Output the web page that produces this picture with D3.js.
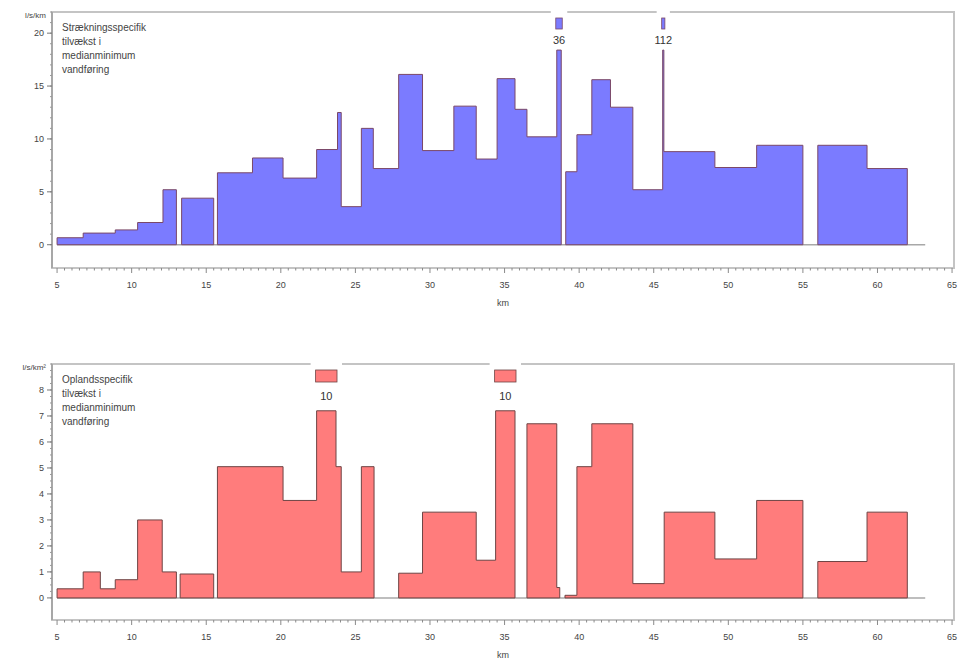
<!DOCTYPE html>
<html>
<head>
<meta charset="utf-8">
<script src="https://cdn.jsdelivr.net/npm/d3@7"></script>
<style>
  body { margin: 0; background: #fff; }
  svg { display: block; font-family: "Liberation Sans", Arial, sans-serif; }
</style>
</head>
<body>
<div id="chart"></div>
<script>
// strækningsspecifik tilvækst (l/s/km): segment start, end and value
const topFrom = [5.0, 6.75, 8.9, 10.4, 12.1, 13.35, 15.75, 18.1, 20.15, 22.4, 23.8, 24.05, 25.4, 26.2, 27.9,
    29.5, 31.6, 33.1, 34.5, 35.7, 36.5, 38.5, 39.1, 39.85, 40.85, 42.1, 43.6, 45.6, 45.68, 49.1, 51.9, 56.0, 59.3];
const topTo = [6.75, 8.9, 10.4, 12.1, 13.0, 15.5, 18.1, 20.15, 22.4, 23.8, 24.05, 25.4, 26.2, 27.9, 29.5,
    31.6, 33.1, 34.5, 35.7, 36.5, 38.5, 38.8, 39.85, 40.85, 42.1, 43.6, 45.6, 45.68, 49.1, 51.9, 55.0, 59.3, 62.0];
const topVal = [0.66, 1.1, 1.4, 2.1, 5.2, 4.4, 6.8, 8.2, 6.3, 9.0, 12.5, 3.6, 11.0, 7.2, 16.1,
    8.9, 13.1, 8.1, 15.7, 12.8, 10.2, 36, 6.9, 10.4, 15.6, 13.0, 5.2, 112, 8.8, 7.3, 9.4, 9.4, 7.2];

// oplandsspecifik tilvækst (l/s/km²)
const botFrom = [5.0, 6.75, 7.9, 8.9, 10.4, 12.05, 13.25, 15.75, 20.15, 22.4, 23.7, 24.05, 25.4, 27.9,
    29.5, 33.1, 34.4, 36.5, 38.5, 39.05, 39.85, 40.85, 43.6, 45.7, 49.1, 51.9, 56.0, 59.3];
const botTo = [6.75, 7.9, 8.9, 10.4, 12.05, 13.0, 15.5, 20.15, 22.4, 23.7, 24.05, 25.4, 26.25, 29.5,
    33.1, 34.4, 35.7, 38.5, 38.7, 39.85, 40.85, 43.6, 45.7, 49.1, 51.9, 55.0, 59.3, 62.0];
const botVal = [0.35, 1.0, 0.35, 0.7, 3.0, 1.0, 0.92, 5.05, 3.75, 10, 5.05, 1.0, 5.05, 0.95,
    3.3, 1.45, 10, 6.7, 0.4, 0.1, 5.05, 6.7, 0.55, 3.3, 1.5, 3.75, 1.4, 3.3];

const xTicks = [5, 10, 15, 20, 25, 30, 35, 40, 45, 50, 55, 60, 65];
const topYTicks = [0, 5, 10, 15, 20];
const botYTicks = [0, 1, 2, 3, 4, 5, 6, 7, 8];
const topLegend = ["Strækningsspecifik", "tilvækst i", "medianminimum", "vandføring"];
const botLegend = ["Oplandsspecifik", "tilvækst i", "medianminimum", "vandføring"];

const width = 963, height = 661;
const left = 52, right = 954;

const svg = d3.select("#chart")
    .append("svg")
    .attr("width", width)
    .attr("height", height);

const x = d3.scaleLinear().domain([4.66, 65.13]).range([left, right]);

// split segments into runs of touching steps
function runsOf(data) {
    const runs = [];
    data.forEach((d, i) => {
        if (i > 0 && Math.abs(d.from - data[i - 1].to) < 1e-6) runs[runs.length - 1].push(d);
        else runs.push([d]);
    });
    return runs;
}

function drawPanel(o) {
    const y = d3.scaleLinear().domain(o.yDomain).range([o.bottom, o.top]);
    const g = svg.append("g");
    const data = o.from.map((f, i) => ({from: f, to: o.to[i], value: o.val[i]}));
    const h = v => y(Math.min(v, o.clip));

    // frame
    g.append("rect")
        .attr("x", left).attr("y", o.top)
        .attr("width", right - left).attr("height", o.bottom - o.top)
        .attr("fill", "none")
        .attr("stroke", "#c4c4c4")
        .attr("stroke-width", 2);
    g.append("line")
        .attr("x1", left).attr("x2", left)
        .attr("y1", o.top).attr("y2", o.bottom)
        .attr("stroke", "#8a8a8a");

    // x ticks (minor every 0.5 km)
    const minorX = d3.range(5, 65.01, 0.5);
    g.selectAll(".xminor")
        .data(minorX)
        .enter()
        .append("line")
        .attr("x1", d => x(d)).attr("x2", d => x(d))
        .attr("y1", o.bottom)
        .attr("y2", d => o.bottom + (d % 5 === 0 ? 5 : 2.5))
        .attr("stroke", "#8a8a8a");
    g.selectAll(".xlab")
        .data(xTicks)
        .enter()
        .append("text")
        .attr("x", d => x(d))
        .attr("y", o.bottom + 20)
        .attr("text-anchor", "middle")
        .attr("font-size", "9px")
        .attr("fill", "#444")
        .text(d => d);
    g.append("text")
        .attr("x", (left + right) / 2)
        .attr("y", o.bottom + 38)
        .attr("text-anchor", "middle")
        .attr("font-size", "9px")
        .attr("fill", "#444")
        .text("km");

    // y ticks
    const minorY = d3.range(0, o.yDomain[1] + 0.001, o.minorStep);
    g.selectAll(".yminor")
        .data(minorY)
        .enter()
        .append("line")
        .attr("x1", left - 2).attr("x2", left)
        .attr("y1", d => y(d)).attr("y2", d => y(d))
        .attr("stroke", "#999");
    g.selectAll(".ymajor")
        .data(o.yTicks)
        .enter()
        .append("line")
        .attr("x1", left - 5).attr("x2", left)
        .attr("y1", d => y(d)).attr("y2", d => y(d))
        .attr("stroke", "#777");
    g.selectAll(".ylab")
        .data(o.yTicks)
        .enter()
        .append("text")
        .attr("x", left - 8)
        .attr("y", d => y(d) + 3)
        .attr("text-anchor", "end")
        .attr("font-size", "9px")
        .attr("fill", "#444")
        .text(d => d);
    g.append("text")
        .attr("x", left - 6)
        .attr("y", o.top + 6)
        .attr("text-anchor", "end")
        .attr("font-size", "8px")
        .attr("fill", "#444")
        .text(o.unit);

    // baseline
    g.append("line")
        .attr("x1", x(5)).attr("x2", x(63.2))
        .attr("y1", y(0)).attr("y2", y(0))
        .attr("stroke", "#a8a8a8")
        .attr("stroke-width", 1.5);

    // step areas, clipped at o.clip
    g.selectAll(".run")
        .data(runsOf(data))
        .enter()
        .append("path")
        .attr("d", run => {
            const p = d3.path();
            p.moveTo(x(run[0].from), y(0));
            run.forEach(d => {
                p.lineTo(x(d.from), h(d.value));
                p.lineTo(x(d.to), h(d.value));
            });
            p.lineTo(x(run[run.length - 1].to), y(0));
            p.closePath();
            return p.toString();
        })
        .attr("fill", o.fill)
        .attr("stroke", o.stroke)
        .attr("stroke-width", 1)
        .attr("stroke-linejoin", "miter");

    // broken bars: gap in frame, stub at top and value label
    const over = data.filter(d => d.value > o.clip);
    g.selectAll(".gap")
        .data(over)
        .enter()
        .append("rect")
        .attr("x", d => x(d.from) - 6)
        .attr("y", o.top - 2)
        .attr("width", d => x(d.to) - x(d.from) + 12)
        .attr("height", 4)
        .attr("fill", "#fff");
    g.selectAll(".stub")
        .data(over)
        .enter()
        .append("rect")
        .attr("x", d => x(d.from) - 1)
        .attr("y", o.top + 6)
        .attr("width", d => x(d.to) - x(d.from) + 2)
        .attr("height", o.stubH)
        .attr("fill", o.fill)
        .attr("stroke", o.stroke)
        .attr("stroke-width", 0.8);
    g.selectAll(".over")
        .data(over)
        .enter()
        .append("text")
        .attr("x", d => (x(d.from) + x(d.to)) / 2)
        .attr("y", d => (o.top + 6 + o.stubH + y(o.clip)) / 2 + 4)
        .attr("text-anchor", "middle")
        .attr("font-size", "11px")
        .attr("fill", "#333")
        .text(d => d.value);

    // legend text
    g.selectAll(".leg")
        .data(o.legend)
        .enter()
        .append("text")
        .attr("x", left + 10)
        .attr("y", (d, i) => o.top + 19 + i * 14)
        .attr("font-size", "10px")
        .attr("fill", "#444")
        .text(d => d);
}

drawPanel({
    top: 12, bottom: 268, yDomain: [-2.2, 22], yTicks: topYTicks, minorStep: 1,
    unit: "l/s/km", legend: topLegend,
    from: topFrom, to: topTo, val: topVal, clip: 18.4, stubH: 11,
    fill: "#7b7bff", stroke: "#7a4868"
});

drawPanel({
    top: 364, bottom: 620, yDomain: [-0.85, 9], yTicks: botYTicks, minorStep: 0.25,
    unit: "l/s/km²", legend: botLegend,
    from: botFrom, to: botTo, val: botVal, clip: 7.2, stubH: 12,
    fill: "#ff7c7c", stroke: "#6e4444"
});
</script>
</body>
</html>
